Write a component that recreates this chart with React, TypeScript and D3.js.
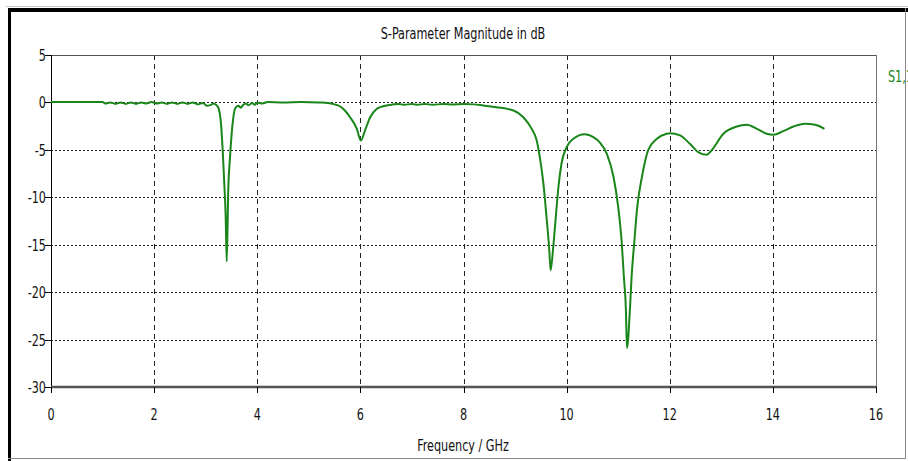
import React from "react";
import * as d3 from "d3";

const freqGHz = [
  0, 0.5, 1.0, 1.05, 1.15, 1.25, 1.35, 1.45, 1.55, 1.65, 1.75, 1.85, 1.95, 2.05, 2.15, 2.25, 2.35, 2.45,
  2.55, 2.65, 2.75, 2.85, 2.95, 3.02, 3.1, 3.15, 3.2, 3.245, 3.297, 3.33, 3.361, 3.388, 3.408, 3.439,
  3.472, 3.516, 3.569, 3.633, 3.68, 3.73, 3.78, 3.83, 3.9, 3.95, 4.0, 4.1, 4.2, 4.5, 4.85, 5.2, 5.37,
  5.5, 5.61, 5.7, 5.8, 5.93, 6.01, 6.09, 6.19, 6.32, 6.44, 6.63, 6.75, 6.85, 7.0, 7.1, 7.25, 7.4, 7.6,
  7.8, 8.0, 8.2, 8.38, 8.64, 8.97, 9.16, 9.32, 9.42, 9.48, 9.55, 9.61, 9.66, 9.69, 9.74, 9.79, 9.84,
  9.9, 10.0, 10.13, 10.35, 10.52, 10.65, 10.78, 10.91, 11.0, 11.07, 11.11, 11.15, 11.17, 11.23, 11.26,
  11.31, 11.37, 11.46, 11.58, 11.75, 11.94, 12.0, 12.2, 12.39, 12.55, 12.72, 12.81, 13.04, 13.3, 13.49,
  13.69, 13.88, 14.01, 14.2, 14.4, 14.62, 14.82, 15.0,
];
const s11dB = [
  0, 0, 0, -0.15, -0.05, -0.2, -0.05, -0.2, -0.05, -0.2, -0.05, -0.15, 0, -0.15, -0.05, -0.2, -0.05, -0.2,
  -0.05, -0.2, -0.05, -0.25, -0.1, -0.4, -0.3, -0.15, -0.3, -0.6, -2.3, -5.1, -8.6, -12.1, -16.8, -9.0,
  -5.8, -2.6, -0.7, -0.4, -0.6, -0.3, -0.15, -0.35, -0.1, -0.3, -0.05, -0.15, 0, -0.05, 0, -0.05, -0.1,
  -0.25, -0.47, -0.9, -1.6, -2.8, -4.05, -3.0, -1.6, -0.72, -0.44, -0.26, -0.2, -0.3, -0.2, -0.3, -0.2, -0.3, -0.2,
  -0.25, -0.22, -0.25, -0.37, -0.55, -0.9, -1.6, -2.8, -4.05, -5.8, -8.6, -12.1, -15.3, -17.7, -15.3, -12.1, -9.0,
  -6.5, -4.75, -3.87, -3.4, -3.7, -4.3, -5.45, -7.9, -11.05, -14.9, -18.4, -21.9, -25.9, -21.6, -18.4,
  -14.9, -11.05, -7.9, -5.1, -3.87, -3.34, -3.28, -3.52, -4.4, -5.27, -5.55, -5.1, -3.34, -2.58, -2.4,
  -2.82, -3.34, -3.45, -3.07, -2.58, -2.3, -2.4, -2.82,
];
const xTicks = [0, 2, 4, 6, 8, 10, 12, 14, 16];
const yTicks = [5, 0, -5, -10, -15, -20, -25, -30];
const chartTitle = "S-Parameter Magnitude in dB";
const xAxisTitle = "Frequency / GHz";
const seriesName = "S1,1";

const SX = 0.78;

function T(props: {
  x: number;
  y: number;
  anchor?: "start" | "middle" | "end";
  size?: number;
  fill?: string;
  children: React.ReactNode;
}) {
  const { x, y, anchor = "start", size = 16, fill = "#111", children } = props;
  return (
    <text
      transform={`translate(${x},${y}) scale(${SX},1)`}
      textAnchor={anchor}
      fontSize={size}
      fill={fill}
    >
      {children}
    </text>
  );
}

export default function App() {
  const W = 908;
  const H = 461;
  const left = 51, right = 876, top = 55, bottom = 387;
  const x = d3.scaleLinear().domain([0, 16]).range([left, right]);
  const y = d3.scaleLinear().domain([-30, 5]).range([bottom, top - 0.5]);
  const pts = freqGHz.map((f, i) => [f, s11dB[i]] as [number, number]);
  const line = d3
    .line<[number, number]>()
    .x((d) => x(d[0]))
    .y((d) => y(d[1]))
    .curve(d3.curveMonotoneX);
  const font = "'DejaVu Sans Condensed', 'DejaVu Sans', sans-serif";
  const green = "#1a861a";

  return (
    <svg
      width={W}
      height={H}
      style={{ position: "absolute", left: 0, top: 0, background: "#fff" }}
      fontFamily={font}
    >
      <rect x={0} y={0} width={W} height={H} fill="#fff" />
      {/* outer frame */}
      <line x1={6} y1={6.5} x2={W} y2={6.5} stroke="#c8c8c8" strokeWidth={1} />
      <rect x={8} y={8} width={W - 8} height={4} fill="#000" />
      <rect x={8} y={8} width={3} height={H - 8} fill="#000" />
      <line x1={8} y1={458.5} x2={905} y2={458.5} stroke="#8a8a8a" strokeWidth={1} />
      <line x1={905.5} y1={8} x2={905.5} y2={459} stroke="#8a8a8a" strokeWidth={1} />

      {/* title */}
      <T x={463} y={39} anchor="middle">
        {chartTitle}
      </T>

      {/* horizontal grid (dotted) */}
      {yTicks
        .filter((t) => t !== 5 && t !== -30)
        .map((t) => (
          <line
            key={"hg" + t}
            x1={left}
            x2={right}
            y1={Math.round(y(t)) + 0.5}
            y2={Math.round(y(t)) + 0.5}
            stroke="#222"
            strokeWidth={1}
            strokeDasharray="2,2"
          />
        ))}
      {/* vertical grid (dashed) */}
      {xTicks
        .filter((t) => t !== 0 && t !== 16)
        .map((t) => (
          <line
            key={"vg" + t}
            x1={Math.round(x(t)) + 0.5}
            x2={Math.round(x(t)) + 0.5}
            y1={top}
            y2={bottom}
            stroke="#222"
            strokeWidth={1}
            strokeDasharray="5,4"
          />
        ))}

      {/* plot frame */}
      <line x1={left} x2={right} y1={top + 0.5} y2={top + 0.5} stroke="#555" />
      <line x1={right + 0.5} x2={right + 0.5} y1={top} y2={bottom} stroke="#777" />
      <line x1={left + 0.5} x2={left + 0.5} y1={top} y2={bottom + 5} stroke="#000" />

      {/* curve */}
      <path d={line(pts) || ""} fill="none" stroke={green} strokeWidth={2} strokeLinejoin="round" />

      <line x1={left} x2={right + 1} y1={bottom} y2={bottom} stroke="#555" strokeWidth={2.5} />

      {/* x ticks */}
      {xTicks.map((t) => (
        <g key={"xt" + t}>
          <line
            x1={Math.round(x(t)) + 0.5}
            x2={Math.round(x(t)) + 0.5}
            y1={bottom}
            y2={bottom + 6}
            stroke="#000"
          />
          <T x={x(t)} y={420} anchor="middle">
            {t}
          </T>
        </g>
      ))}
      {/* y ticks */}
      {yTicks.map((t) => (
        <g key={"yt" + t}>
          <line x1={left - 6} x2={left} y1={Math.round(y(t)) + 0.5} y2={Math.round(y(t)) + 0.5} stroke="#000" />
          <T x={left - 5} y={y(t) + 6} anchor="end">
            {t}
          </T>
        </g>
      ))}

      {/* axis title */}
      <T x={463} y={451} anchor="middle">
        {xAxisTitle}
      </T>

      {/* legend */}
      <T x={888} y={82} fill={green}>
        {seriesName}
      </T>
    </svg>
  );
}
